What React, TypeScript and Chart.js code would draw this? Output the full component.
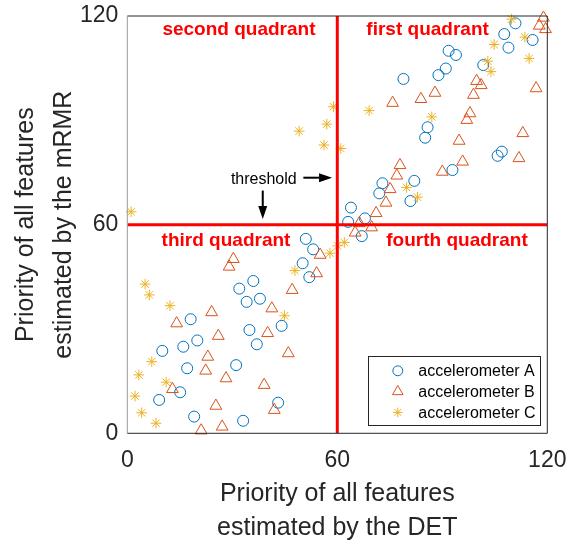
import React, { useEffect, useRef } from 'react';
import { Chart, registerables } from 'chart.js';

Chart.register(...registerables);

// ---------------- data ----------------
const seriesNames = ['accelerometer A', 'accelerometer B', 'accelerometer C'];

const accelA: [number, number][] = [
  [51.0, 55.9], [53.1, 52.9], [50.1, 48.9], [52.0, 44.9], [36.0, 43.8], [32.0, 41.6],
  [34.1, 37.8], [37.9, 38.7], [18.1, 32.8], [34.9, 29.7], [44.1, 30.9], [20.0, 26.7],
  [16.0, 24.9], [10.0, 23.7], [37.0, 25.6], [17.1, 18.7], [31.1, 19.6], [15.1, 11.8],
  [9.1, 9.6], [43.1, 8.8], [19.1, 4.8], [33.1, 3.6],
  [110.9, 117.9], [107.7, 114.8], [108.9, 110.9], [115.8, 113.1], [91.8, 110.0], [93.9, 108.8],
  [91.0, 104.9], [88.9, 103.0], [78.9, 101.9], [101.7, 105.9], [85.8, 88.0], [85.1, 85.0],
  [107.0, 81.0], [105.8, 79.8], [92.9, 75.7], [82.0, 72.6], [72.9, 71.9], [72.0, 69.0],
  [80.9, 66.8], [63.9, 64.9], [67.9, 61.8], [63.1, 60.8], [67.0, 56.7],
];

const accelB: [number, number][] = [
  [30.3, 50.1], [29.1, 47.9], [55.1, 51.3], [54.1, 46.0], [47.1, 41.2], [41.3, 35.9],
  [24.1, 34.8], [14.1, 31.6], [26.0, 28.0], [40.1, 28.8], [23.0, 22.0], [22.4, 18.0],
  [46.0, 23.0], [28.2, 15.8], [39.1, 13.9], [12.9, 12.7], [25.3, 7.9], [42.0, 6.7],
  [27.1, 1.9], [21.1, 0.8],
  [118.9, 119.5], [117.7, 117.2], [119.5, 116.2], [99.8, 101.3], [101.1, 100.1], [98.9, 97.3],
  [116.8, 99.2], [87.9, 97.9], [83.9, 96.1], [75.8, 95.0], [97.9, 92.0], [97.0, 90.1],
  [113.0, 86.3], [94.8, 84.1], [111.9, 79.1], [95.8, 78.1], [77.9, 77.1], [77.0, 74.1],
  [90.0, 75.2], [75.1, 70.2], [73.9, 66.3], [71.1, 63.3], [66.3, 60.4], [69.8, 59.2],
  [65.1, 57.7],
];

const accelC: [number, number][] = [
  [57.9, 51.8], [60.1, 53.9], [62.0, 54.9], [47.9, 46.8], [5.1, 42.9], [6.3, 39.8],
  [12.2, 36.7], [44.9, 33.8], [7.0, 20.6], [3.3, 16.8], [11.1, 14.7], [2.2, 10.7],
  [4.1, 5.9], [8.2, 2.9],
  [109.8, 119.1], [113.6, 113.9], [104.8, 111.8], [114.8, 107.8], [103.0, 107.0], [103.9, 104.0],
  [58.9, 93.9], [69.1, 92.8], [87.0, 91.0], [61.0, 81.9], [79.8, 70.7], [82.9, 67.9],
  [57.0, 88.9], [49.1, 86.9], [56.2, 82.9], [1.1, 63.7],
];

const tickValues = [0, 60, 120];
const thresholdValue = 60;
const xTitle = ['Priority of all features', 'estimated by the DET'];
const yTitle = ['Priority of all features', 'estimated by the mRMR'];
// quadrant label anchors (data coordinates)
const quadrantLabels: [string, number, number][] = [
  ['first quadrant', 85.8, 116.0],
  ['second quadrant', 31.9, 116.0],
  ['third quadrant', 28.2, 55.4],
  ['fourth quadrant', 94.2, 55.4],
];
const thresholdText: [string, number, number] = ['threshold', 39.0, 73.1];

// ---------------- styles ----------------
const FONT = '"Liberation Sans", Arial, Helvetica, sans-serif';
const TEXT = '#262626';
const BLUE = '#0072BD';
const ORANGE = '#D95319';
const YELLOW = '#EDB120';
const RED = '#FF0000';
const markerStyles = ['circle', 'triangle', 'star'];
const markerColors = [BLUE, ORANGE, YELLOW];
const markerRadii = [5.5, 6.8, 5.3];

function drawMarker(ctx: CanvasRenderingContext2D, style: string, x: number, y: number, r: number, color: string) {
  ctx.save();
  ctx.strokeStyle = color;
  ctx.lineWidth = 1;
  ctx.beginPath();
  if (style === 'circle') {
    ctx.arc(x, y, r, 0, Math.PI * 2);
  } else if (style === 'triangle') {
    for (let k = 0; k < 3; k++) {
      const a = (k * 2 * Math.PI) / 3;
      const px = x + Math.sin(a) * r;
      const py = y - Math.cos(a) * r;
      if (k === 0) ctx.moveTo(px, py);
      else ctx.lineTo(px, py);
    }
    ctx.closePath();
  } else {
    for (const a of [0, Math.PI / 4, Math.PI / 2, (3 * Math.PI) / 4]) {
      ctx.moveTo(x + Math.cos(a) * r, y + Math.sin(a) * r);
      ctx.lineTo(x - Math.cos(a) * r, y - Math.sin(a) * r);
    }
  }
  ctx.stroke();
  ctx.restore();
}

function drawArrow(ctx: CanvasRenderingContext2D, x1: number, y1: number, x2: number, y2: number) {
  const ang = Math.atan2(y2 - y1, x2 - x1);
  const headLen = 13;
  const headHalf = 4.5;
  const bx = x2 - Math.cos(ang) * headLen;
  const by = y2 - Math.sin(ang) * headLen;
  ctx.save();
  ctx.strokeStyle = '#000';
  ctx.fillStyle = '#000';
  ctx.lineWidth = 2;
  ctx.beginPath();
  ctx.moveTo(x1, y1);
  ctx.lineTo(bx, by);
  ctx.stroke();
  ctx.beginPath();
  ctx.moveTo(x2, y2);
  ctx.lineTo(bx - Math.sin(ang) * headHalf, by + Math.cos(ang) * headHalf);
  ctx.lineTo(bx + Math.sin(ang) * headHalf, by - Math.cos(ang) * headHalf);
  ctx.closePath();
  ctx.fill();
  ctx.restore();
}

const decorPlugin = {
  id: 'decor',
  afterDraw(chart: any) {
    const ctx: CanvasRenderingContext2D = chart.ctx;
    const { left, right, top, bottom } = chart.chartArea;
    const xs = chart.scales.x;
    const ys = chart.scales.y;

    // frame
    ctx.save();
    ctx.lineWidth = 1;
    ctx.strokeStyle = TEXT;
    ctx.beginPath();
    ctx.moveTo(left, top);
    ctx.lineTo(right, top);
    ctx.lineTo(right, bottom);
    ctx.lineTo(left, bottom);
    ctx.stroke();
    ctx.strokeStyle = '#9a9a9a';
    ctx.beginPath();
    ctx.moveTo(left, top);
    ctx.lineTo(left, bottom);
    ctx.stroke();
    ctx.restore();

    // quadrant labels
    ctx.save();
    ctx.fillStyle = RED;
    ctx.font = `bold 19px ${FONT}`;
    ctx.textAlign = 'center';
    ctx.textBaseline = 'middle';
    for (const [t, vx, vy] of quadrantLabels) {
      ctx.fillText(t, xs.getPixelForValue(vx), ys.getPixelForValue(vy));
    }
    ctx.restore();

    // threshold annotation
    ctx.save();
    ctx.fillStyle = '#000';
    ctx.font = `16px ${FONT}`;
    ctx.textAlign = 'center';
    ctx.textBaseline = 'middle';
    ctx.fillText(thresholdText[0], xs.getPixelForValue(thresholdText[1]), ys.getPixelForValue(thresholdText[2]));
    ctx.restore();
    drawArrow(ctx, xs.getPixelForValue(50.3), ys.getPixelForValue(73.5), xs.getPixelForValue(58.5), ys.getPixelForValue(73.5));
    drawArrow(ctx, xs.getPixelForValue(38.7), ys.getPixelForValue(69.8), xs.getPixelForValue(38.7), ys.getPixelForValue(61.6));

    // legend
    const bw = 172;
    const bh = 69;
    const bx = right - 7 - bw;
    const by = bottom - 8 - bh;
    ctx.save();
    ctx.fillStyle = '#fff';
    ctx.fillRect(bx, by, bw, bh);
    ctx.strokeStyle = TEXT;
    ctx.lineWidth = 1;
    ctx.strokeRect(Math.round(bx) + 0.5, Math.round(by) + 0.5, bw, bh);
    ctx.font = `16px ${FONT}`;
    ctx.fillStyle = '#000';
    ctx.textAlign = 'left';
    ctx.textBaseline = 'middle';
    seriesNames.forEach((name, i) => {
      const cy = by + 14.5 + i * 20.8;
      drawMarker(ctx, markerStyles[i], bx + 29.5, cy, markerRadii[i] * 0.9, markerColors[i]);
      ctx.fillText(name, bx + 50, cy + 1);
    });
    ctx.restore();
  },
};

const zeroPad = (s: any) => {
  s.paddingLeft = 0;
  s.paddingRight = 0;
  s.paddingTop = 0;
  s.paddingBottom = 0;
};

export default function App() {
  const ref = useRef<HTMLCanvasElement | null>(null);

  useEffect(() => {
    document.body.style.margin = '0';
    const canvas = ref.current;
    if (!canvas) return;
    const toPts = (arr: [number, number][]) => arr.map(([x, y]) => ({ x, y }));
    const seriesData = [accelA, accelB, accelC];
    const datasets: any[] = seriesData.map((arr, i) => ({
      label: seriesNames[i],
      data: toPts(arr),
      pointStyle: markerStyles[i],
      pointRadius: markerRadii[i],
      pointBorderWidth: 1,
      borderColor: markerColors[i],
      backgroundColor: 'rgba(0,0,0,0)',
      pointBackgroundColor: 'rgba(0,0,0,0)',
      order: 3 - i,
      clip: false,
    }));
    datasets.push({
      type: 'line',
      label: 'threshold DET',
      data: [{ x: thresholdValue, y: 0 }, { x: thresholdValue, y: 120 }],
      borderColor: RED,
      borderWidth: 3,
      pointRadius: 0,
      showLine: true,
      order: 0,
    });
    datasets.push({
      type: 'line',
      label: 'threshold mRMR',
      data: [{ x: 0, y: thresholdValue }, { x: 120, y: thresholdValue }],
      borderColor: RED,
      borderWidth: 3,
      pointRadius: 0,
      showLine: true,
      order: 0,
    });

    const chart = new Chart(canvas, {
      type: 'scatter',
      data: { datasets },
      options: {
        responsive: false,
        animation: false,
        events: [],
        layout: { padding: { left: 0, top: 16, right: 20.7, bottom: 0 } },
        plugins: { legend: { display: false }, tooltip: { enabled: false } },
        scales: {
          x: {
            type: 'linear',
            min: 0,
            max: 120,
            grid: { display: false, drawTicks: false },
            border: { display: false },
            afterBuildTicks: (s: any) => { s.ticks = tickValues.map((v) => ({ value: v })); },
            afterFit: (s: any) => { s.height = 109.7; zeroPad(s); },
            ticks: { padding: 14, color: TEXT, font: { family: FONT, size: 23 }, maxRotation: 0, autoSkip: false },
            title: {
              display: true,
              text: xTitle,
              color: TEXT,
              font: { family: FONT, size: 25, lineHeight: 1.36 },
              padding: { top: 0, bottom: -2 },
            },
          },
          y: {
            type: 'linear',
            min: 0,
            max: 120,
            grid: { display: false, drawTicks: false },
            border: { display: false },
            afterBuildTicks: (s: any) => { s.ticks = tickValues.map((v) => ({ value: v })); },
            afterFit: (s: any) => { s.width = 127.3; zeroPad(s); },
            ticks: { padding: 9, color: TEXT, font: { family: FONT, size: 23 }, autoSkip: false },
            title: {
              display: true,
              text: yTitle,
              color: TEXT,
              font: { family: FONT, size: 25, lineHeight: 1.52 },
              padding: { top: 7, bottom: 0 },
            },
          },
        },
      },
      plugins: [decorPlugin],
    } as any);
    return () => chart.destroy();
  }, []);

  return (
    <div style={{ width: 568, height: 543, background: '#fff' }}>
      <canvas ref={ref} width={568} height={543} style={{ display: 'block' }} />
    </div>
  );
}
